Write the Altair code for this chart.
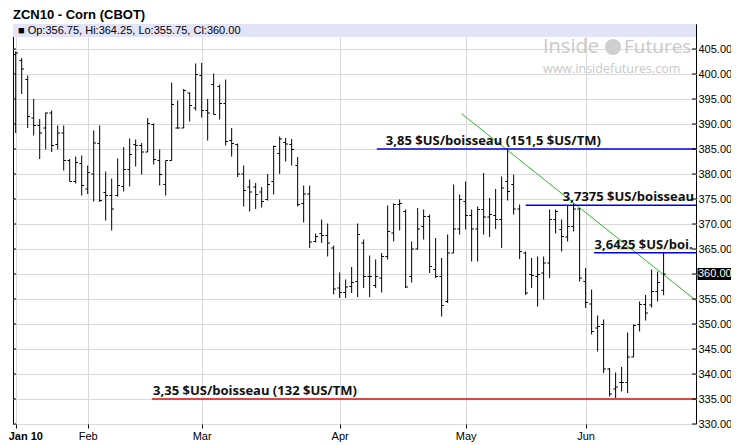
import altair as alt
import pandas as pd

# ---------------- data ----------------
opens = [403.9, 402.7, 398.9, 391.2, 389.7, 389.2, 392.2, 385.9, 388.2, 382.7,
         378.5, 382.1, 377.0, 380.0, 386.1, 376.3, 375.7, 375.7, 377.5, 380.9,
         385.9, 385.7, 384.4, 389.9, 382.7, 377.9, 382.7, 389.2, 389.2, 396.2,
         393.2, 399.7, 392.7, 397.9, 397.5, 394.1, 386.7, 385.9, 380.0, 377.4,
         377.4, 376.4, 374.9, 378.5, 384.1, 386.3, 385.9, 381.7, 374.1, 376.0,
         366.5, 368.1, 367.7, 365.2, 357.2, 356.3, 357.5, 358.5, 366.2, 359.5,
         357.7, 359.2, 363.5, 368.2, 373.9, 372.5, 359.5, 365.0, 369.5, 371.5,
         360.9, 359.5, 354.5, 364.2, 369.0, 374.5, 371.7, 369.0, 372.9, 371.4,
         371.7, 370.9, 378.5, 377.9, 373.0, 364.2, 359.9, 359.5, 360.2, 362.2,
         370.9, 368.9, 367.4, 369.5, 373.0, 358.5, 354.0, 349.2, 349.9, 341.0,
         337.0, 338.3, 338.3, 343.4, 349.9, 353.9, 353.8, 356.5, 356.75]
highs = [404.5, 403.2, 399.7, 395.0, 391.0, 392.3, 392.7, 389.7, 389.7, 383.0,
         383.5, 383.7, 381.7, 388.7, 389.7, 380.5, 379.1, 383.1, 385.4, 387.1,
         386.9, 386.2, 391.2, 390.1, 384.9, 382.7, 398.3, 394.7, 397.0, 396.3,
         402.1, 402.2, 395.0, 400.1, 397.9, 398.9, 389.2, 386.1, 381.7, 378.9,
         378.2, 377.4, 380.0, 385.7, 387.5, 387.2, 387.0, 383.4, 377.7, 377.7,
         368.1, 370.9, 370.1, 365.7, 360.3, 358.9, 361.4, 370.1, 366.9, 363.7,
         362.9, 364.2, 373.7, 374.1, 374.9, 372.9, 366.5, 373.2, 372.9, 371.9,
         367.2, 363.2, 367.9, 377.9, 375.9, 378.5, 372.9, 373.5, 380.2, 375.2,
         377.0, 379.5, 385.0, 379.9, 373.9, 364.5, 363.2, 363.5, 363.5, 372.9,
         372.9, 370.9, 373.7, 374.1, 373.2, 361.2, 356.9, 351.7, 350.9, 341.2,
         340.3, 341.4, 348.3, 349.9, 354.5, 355.8, 360.9, 360.5, 364.25]
lows = [388.2, 396.0, 389.2, 387.7, 383.0, 384.9, 384.4, 384.9, 380.7, 378.5,
        378.1, 375.7, 376.0, 374.5, 374.4, 370.7, 368.7, 375.5, 376.5, 377.5,
        381.5, 379.9, 384.4, 381.9, 377.7, 375.7, 382.7, 389.1, 389.2, 390.5,
        392.7, 391.3, 386.7, 391.9, 390.9, 385.7, 383.5, 379.4, 373.5, 372.5,
        373.0, 373.3, 374.7, 375.9, 380.0, 382.5, 381.7, 373.5, 370.3, 365.2,
        366.3, 366.2, 363.5, 355.9, 355.2, 355.2, 356.2, 355.4, 357.2, 355.4,
        357.2, 356.3, 362.9, 366.5, 368.7, 357.2, 358.3, 364.9, 366.9, 360.2,
        359.2, 351.5, 354.2, 364.2, 367.9, 368.9, 362.5, 362.5, 367.9, 367.4,
        369.0, 365.2, 374.7, 371.9, 363.0, 355.8, 357.2, 353.5, 354.9, 359.2,
        368.1, 364.5, 366.5, 368.5, 358.5, 353.2, 347.9, 344.5, 340.2, 335.5,
        335.2, 336.5, 336.2, 343.4, 348.5, 350.7, 353.3, 354.5, 355.75]
closes = [404.2, 401.0, 391.5, 389.7, 388.2, 392.2, 385.7, 388.2, 382.7, 378.5,
          382.3, 377.7, 380.3, 386.2, 374.7, 375.7, 373.0, 377.7, 380.9, 383.9,
          385.7, 384.4, 390.1, 382.9, 379.9, 382.7, 393.9, 389.2, 396.7, 393.7,
          399.9, 392.7, 392.2, 391.9, 394.1, 386.5, 386.1, 380.0, 376.7, 376.4,
          375.9, 374.5, 377.9, 385.5, 387.0, 386.0, 384.9, 373.9, 376.0, 366.4,
          367.5, 367.7, 366.2, 357.0, 356.3, 357.4, 358.3, 367.9, 359.5, 359.5,
          359.5, 363.5, 368.5, 373.9, 374.1, 357.4, 365.0, 369.0, 371.5, 361.5,
          359.5, 353.7, 364.2, 369.0, 374.9, 371.7, 369.0, 372.9, 371.4, 371.9,
          370.9, 377.2, 376.5, 373.0, 364.5, 356.2, 359.7, 359.9, 362.2, 370.9,
          372.5, 367.5, 369.5, 373.0, 359.2, 354.3, 348.5, 349.5, 341.0, 336.0,
          337.4, 338.3, 343.4, 349.7, 353.9, 352.2, 356.5, 358.3, 360.0]

month_idx = [0, 12, 31, 54, 75, 95]
month_labels = ["Jan 10", "Feb", "Mar", "Apr", "May", "Jun"]
y_ticks = [330, 335, 340, 345, 350, 355, 360, 365, 370, 375, 380, 385, 390, 395, 400, 405]

levels = [385.0, 373.75, 364.25, 335.0]
level_start = [60.2, 85.0, 96.4, 22.7]
level_colors = ["#0000ee", "#0000ee", "#0000ee", "#ff0000"]
level_labels = ["3,85 $US/boisseau (151,5 $US/TM)", "3,7375 $US/boisseau",
                "3,6425 $US/boi.", "3,35 $US/boisseau (132 $US/TM)"]
label_start = [61.7, 91.2, 96.5, 22.9]

trend_x = [74.33, 113.4]
trend_y = [392.06, 354.7]

last_price = 360.0
title_text = "ZCN10 - Corn (CBOT)"
info_text = "■ Op:356.75, Hi:364.25, Lo:355.75, Cl:360.00"

X_MIN, X_MAX = -0.45, 113.4
W, H = 683, 400

# ---------------- frames ----------------
n = len(opens)
bars = pd.DataFrame({"i": list(range(n)), "o": opens, "h": highs, "l": lows, "c": closes})
bars["il"] = bars["i"] - 0.38
bars["ir"] = bars["i"] + 0.38

lv = pd.DataFrame({"x": level_start, "x2": [X_MAX] * 4, "y": levels,
                   "col": level_colors, "lab": level_labels, "lx": label_start})
tr = pd.DataFrame({"x": trend_x, "y": trend_y})
yt = pd.DataFrame({"y": y_ticks})
one = pd.DataFrame({"a": [0]})

label_expr = "{0}[indexof({1}, datum.value)]".format(
    "[" + ",".join("'%s'" % s for s in month_labels) + "]",
    "[" + ",".join(str(v) for v in month_idx) + "]")

xscale = alt.Scale(domain=[X_MIN, X_MAX], nice=False, zero=False)
yscale = alt.Scale(domain=[330, 410], nice=False, zero=False)

xaxis = alt.Axis(values=month_idx, labelExpr=label_expr, title=None, grid=True,
                 gridColor="#d9d9d9", tickSize=4, tickColor="black", domain=False,
                 labelFont="Liberation Sans", labelFontSize=11, labelColor="black",
                 labelPadding=2,
                 labelAlign={"condition": {"test": "datum.value == 0", "value": "left"},
                             "value": "center"},
                 labelOffset={"condition": {"test": "datum.value == 0", "value": -7.5},
                              "value": 0},
                 labelFontWeight={"condition": {"test": "datum.value == 0", "value": "bold"},
                                  "value": "normal"})
yaxis = alt.Axis(orient="right", values=y_ticks, format=".2f", title=None, grid=True,
                 gridColor="#d9d9d9", tickSize=0, domain=False, labelPadding=2,
                 labelFont="Liberation Sans", labelFontSize=11, labelColor="black")

X = lambda f: alt.X(f, type="quantitative", scale=xscale, axis=xaxis)
Y = lambda f: alt.Y(f, type="quantitative", scale=yscale, axis=yaxis)

# background band (info strip)
band = alt.Chart(one).mark_rect(fill="#e4e4f8").encode(
    x=alt.value(0), x2=alt.value(W), y=alt.value(0), y2=alt.value(13))

# hi-lo bars
hl = alt.Chart(bars).mark_rule(color="black", strokeWidth=1).encode(
    x=X("i"), y=Y("l"), y2="h")
op = alt.Chart(bars).mark_rule(color="black", strokeWidth=1).encode(
    x=X("il"), x2="i", y=Y("o"))
cl = alt.Chart(bars).mark_rule(color="black", strokeWidth=1).encode(
    x=X("i"), x2="ir", y=Y("c"))

trend = alt.Chart(tr).mark_line(color="#33b533", strokeWidth=1).encode(x=X("x"), y=Y("y"))

lvl = alt.Chart(lv).mark_rule(strokeWidth=1.3).encode(
    x=X("x"), x2="x2", y=Y("y"), color=alt.Color("col:N", scale=None))
lvl_txt = alt.Chart(lv).mark_text(align="left", baseline="alphabetic", dy=-4,
                                  font="Open Sans", fontSize=13, fontWeight="bold",
                                  color="#111111").encode(
    x=X("lx"), y=Y("y"), text="lab:N")

# inner axis ticks on both sides
rt = alt.Chart(yt).mark_rule(color="black").encode(
    x=alt.value(W - 4), x2=alt.value(W), y=Y("y"))
lt = alt.Chart(yt).mark_rule(color="black").encode(
    x=alt.value(0), x2=alt.value(3), y=Y("y"))

# current price marker
cur = pd.DataFrame({"y": [last_price], "t": ["%.2f" % last_price]})
cur_box = alt.Chart(cur).mark_rule(color="black", strokeWidth=12).encode(
    x=alt.value(W + 1.5), x2=alt.value(W + 35.5), y=Y("y"))
cur_txt = alt.Chart(cur).mark_text(align="left", baseline="middle", color="white",
                                   font="Liberation Sans", fontSize=11).encode(
    x=alt.value(W + 2), y=Y("y"), text="t:N")

# header texts
title = alt.Chart(one).mark_text(align="left", baseline="middle", font="Liberation Sans",
                                 fontSize=13, fontWeight="bold", color="black").encode(
    x=alt.value(0), y=alt.value(-9), text=alt.value(title_text))
info = alt.Chart(one).mark_text(align="left", baseline="middle", font="Liberation Sans",
                                fontSize=11, color="black").encode(
    x=alt.value(5), y=alt.value(7), text=alt.value(info_text))

# watermark
wm1 = alt.Chart(one).mark_text(align="left", baseline="middle", font="Open Sans",
                               fontSize=20, color="#c9c9c9").encode(
    x=alt.value(530), y=alt.value(23), text=alt.value("Inside"))
wm2 = alt.Chart(one).mark_text(align="left", baseline="middle", font="Open Sans",
                               fontSize=19, color="#c9c9c9").encode(
    x=alt.value(611), y=alt.value(23), text=alt.value("Futures"))
wm3 = alt.Chart(one).mark_text(align="left", baseline="middle", font="Open Sans",
                               fontSize=12.5, color="#c9c9c9").encode(
    x=alt.value(530), y=alt.value(45), text=alt.value("www.insidefutures.com"))
wmc = alt.Chart(one).mark_point(shape="circle", filled=True, size=260, color="#cfcfcf",
                                opacity=1).encode(x=alt.value(600), y=alt.value(23))

chart = alt.layer(
    band, wm1, wm2, wm3, wmc, trend, lvl, hl, op, cl, lvl_txt, rt, lt,
    cur_box, cur_txt, title, info
).properties(
    width=W, height=H,
    autosize=alt.AutoSizeParams(type="none"),
    padding={"left": 5, "top": 16, "right": 35, "bottom": 21},
    background="white",
).configure_view(stroke="black", strokeWidth=1)

chart.save("out.html", embed_options={"renderer": "svg", "actions": False})
